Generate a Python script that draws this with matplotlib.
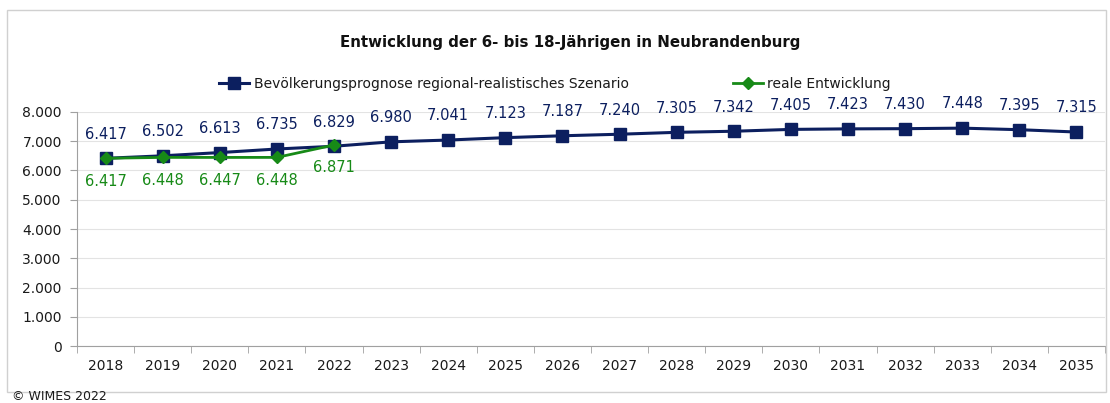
import matplotlib.pyplot as plt
from matplotlib.patches import Rectangle

# data
years = [str(y) for y in range(2018, 2036)]
prognose = [6417, 6502, 6613, 6735, 6829, 6980, 7041, 7123, 7187, 7240,
            7305, 7342, 7405, 7423, 7430, 7448, 7395, 7315]
real_years = years[:5]
real = [6417, 6448, 6447, 6448, 6871]
yticks = [0, 1000, 2000, 3000, 4000, 5000, 6000, 7000, 8000]

navy = "#0c1f5f"
green = "#178a17"
txt = "#1a1a1a"


def de_fmt(v):
    return f"{v:,.0f}".replace(",", ".")


plt.rcParams['font.family'] = ['DejaVu Sans']

fig = plt.figure(figsize=(11.1, 4.03), dpi=100)
ax = fig.add_axes([0.0694, 0.1414, 0.9261, 0.5807])

# outer frame
fig.patches.append(Rectangle((7 / 1110, 1 - 392 / 403), 1099 / 1110, 382 / 403,
                             transform=fig.transFigure, fill=False,
                             edgecolor="#d0d0d0", linewidth=1))

x = list(range(len(years)))
xr = list(range(len(real_years)))
ax.plot(x, prognose, color=navy, linewidth=2.2, marker="s", markersize=9,
        label="Bevölkerungsprognose regional-realistisches Szenario", zorder=3)
ax.plot(xr, real, color=green, linewidth=2, marker="D", markersize=6,
        label="reale Entwicklung", zorder=4)

for xi, v in zip(x, prognose):
    ax.annotate(de_fmt(v), (xi, v), xytext=(0, 12), textcoords="offset points",
                ha="center", va="bottom", color=navy, fontsize=10.5)
for xi, v in zip(xr, real):
    ax.annotate(de_fmt(v), (xi, v), xytext=(0, -11), textcoords="offset points",
                ha="center", va="top", color=green, fontsize=10.5)

ax.set_xlim(-0.5, len(years) - 0.5)
ax.set_ylim(0, 8000)
ax.set_yticks(yticks)
ax.set_yticklabels([de_fmt(v) for v in yticks], fontsize=10, color=txt)
ax.set_xticks(x)
ax.set_xticklabels(years, fontsize=10, color=txt)
ax.set_xticks([i - 0.5 for i in range(len(years) + 1)], minor=True)
ax.tick_params(axis="x", which="major", length=0, pad=9)
ax.tick_params(axis="x", which="minor", length=5, color="#a0a0a0")
ax.tick_params(axis="y", length=5, color="#a0a0a0", pad=6)

ax.grid(axis="y", color="#e3e3e3", linewidth=0.8)
ax.set_axisbelow(True)
for s in ["top", "right"]:
    ax.spines[s].set_visible(False)
for s in ["left", "bottom"]:
    ax.spines[s].set_color("#a0a0a0")

fig.text(0.514, 1 - 43 / 403, "Entwicklung der 6- bis 18-Jährigen in Neubrandenburg",
         ha="center", va="center", fontsize=10.8, fontweight="bold", color="#111111")

fig.legend(loc="center", bbox_to_anchor=(0.5, 1 - 84 / 403), ncol=2, frameon=False,
           fontsize=10, columnspacing=7.5, handlelength=2.2, handletextpad=0.3,
           labelcolor=txt)

fig.text(12 / 1110, 1 - 397 / 403, "© WIMES 2022", ha="left", va="center",
         fontsize=9, color=txt)

fig.savefig("out.png", dpi=100)
